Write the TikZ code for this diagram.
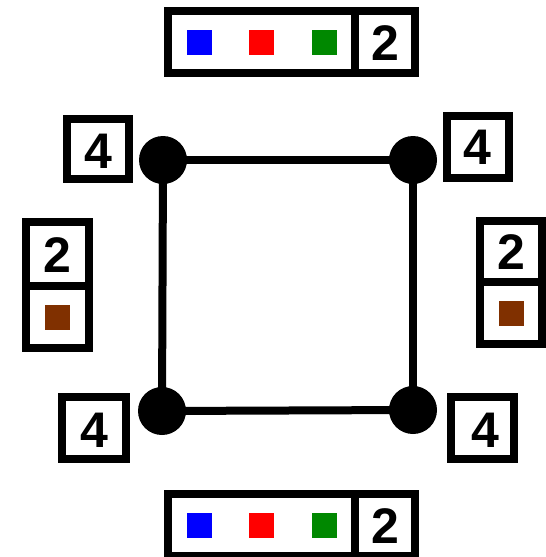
\documentclass[tikz,border=0pt]{standalone}
\usepackage{fontspec}
\setmainfont{Liberation Sans}
\definecolor{sqblue}{RGB}{0,0,255}
\definecolor{sqred}{RGB}{255,0,0}
\definecolor{sqgreen}{RGB}{0,136,0}
\definecolor{sqbrown}{RGB}{128,48,0}
\begin{document}
\begin{tikzpicture}[x=1pt,y=-1pt,
  frame/.style={draw=black, line width=8pt, fill=white},
  dig/.style={font=\fontsize{50}{50}\selectfont\bfseries, inner sep=0pt},
  sq/.style={minimum size=25pt, inner sep=0pt, outer sep=0pt},
  dot/.style={circle, fill=black, minimum size=48pt, inner sep=0pt},
  edgeline/.style={line width=8pt}]
\useasboundingbox (0,0) rectangle (546,557);

% square graph
\node[dot] (tl) at (163,160) {};
\node[dot] (tr) at (413,160) {};
\node[dot] (bl) at (162,411) {};
\node[dot] (br) at (413,410) {};
\draw[edgeline] (tl.center) -- (tr.center);
\draw[edgeline] (tr.center) -- (br.center);
\draw[edgeline] (br.center) -- (bl.center);
\draw[edgeline] (bl.center) -- (tl.center);

% corner labels
\draw[frame] (67,119) rectangle (129,179);
\node[dig] (ltl) at (98.5,151) {4};
\draw[frame] (447,116) rectangle (509,178);
\node[dig] (ltr) at (477.5,147) {4};
\draw[frame] (62,397) rectangle (126,459);
\node[dig] (lbl) at (94.5,430) {4};
\draw[frame] (451,397) rectangle (514,459);
\node[dig] (lbr) at (485,430) {4};

% top box
\draw[frame] (168,11) rectangle (415,73);
\draw[line width=8pt] (355,11) -- (355,73);
\node[sq, fill=sqblue] (tb) at (199.5,42.5) {};
\node[sq, fill=sqred] (tr2) at (261.5,42.5) {};
\node[sq, fill=sqgreen] (tg) at (324.5,42.5) {};
\node[dig] (tn) at (385,43.5) {2};

% bottom box
\draw[frame] (168,494) rectangle (415,556);
\draw[line width=8pt] (355,494) -- (355,556);
\node[sq, fill=sqblue] (bb) at (199.5,525.5) {};
\node[sq, fill=sqred] (br2) at (261.5,525.5) {};
\node[sq, fill=sqgreen] (bg) at (324.5,525.5) {};
\node[dig] (bn) at (385,526) {2};

% left box
\draw[frame] (26,222) rectangle (89,348);
\draw[line width=8pt] (26,286) -- (89,286);
\node[dig] (ln) at (57,255.5) {2};
\node[sq, fill=sqbrown] (lbr2) at (57.5,317) {};

% right box
\draw[frame] (480,221) rectangle (542,344);
\draw[line width=8pt] (480,282) -- (542,282);
\node[dig] (rn) at (511,252) {2};
\node[sq, fill=sqbrown] (rbr2) at (511.5,313) {};
\end{tikzpicture}
\end{document}
